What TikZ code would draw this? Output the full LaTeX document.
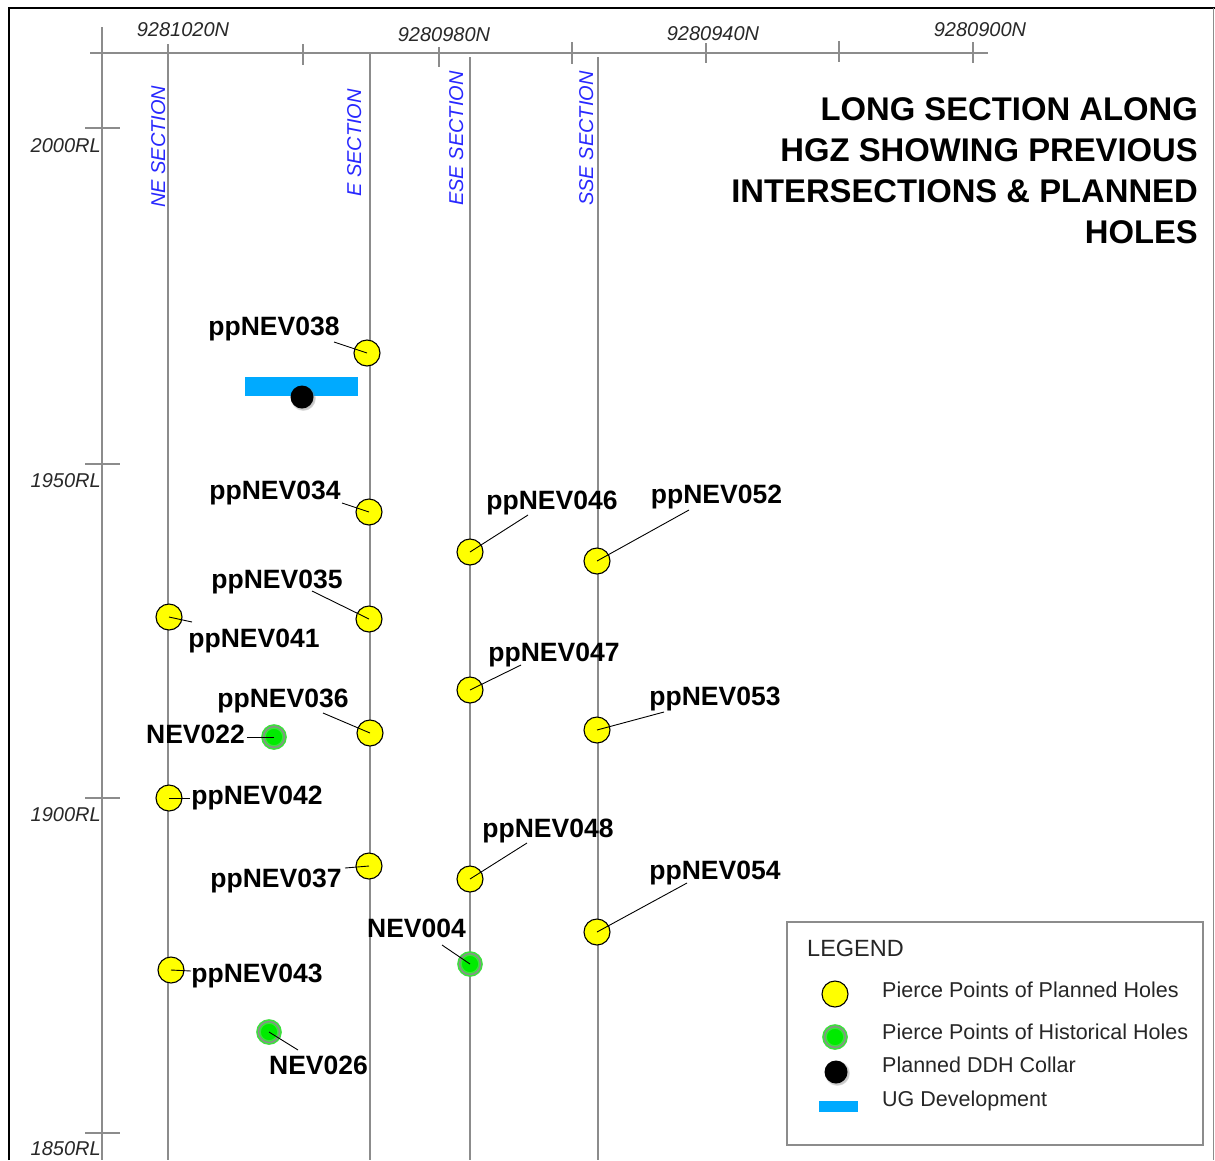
\documentclass[tikz,border=0pt]{standalone}
\usepackage{fontspec}
\setmainfont{Liberation Sans}
\usetikzlibrary{shadows}
\definecolor{axgray}{RGB}{140,140,140}
\definecolor{ppyellow}{RGB}{255,255,0}
\definecolor{histgreen}{RGB}{0,235,0}
\definecolor{ringgreen}{RGB}{60,225,60}
\definecolor{ugblue}{RGB}{0,170,255}
\definecolor{secblue}{RGB}{40,40,255}
\definecolor{axtext}{RGB}{40,40,40}
\begin{document}
\begin{tikzpicture}[x=1pt,y=-1pt,
  axline/.style={draw=axgray, line width=1.6pt},
  axlab/.style={inner sep=0pt, text=axtext, font=\fontsize{20}{22}\selectfont\itshape},
  seclab/.style={inner sep=0pt, rotate=90, anchor=base west, text=secblue, font=\fontsize{20}{22}\selectfont\itshape},
  titlelab/.style={inner sep=0pt, anchor=base east, font=\fontsize{32.8}{36}\selectfont\bfseries},
  pp/.style={circle, inner sep=0pt, minimum size=26pt, fill=ppyellow, draw=black, line width=1.1pt},
  hist/.style={circle, inner sep=0pt, minimum size=21pt, fill=histgreen, draw=ringgreen, line width=1.6pt, double=axgray, double distance=1.4pt},
  collar/.style={circle, inner sep=0pt, minimum size=23pt, fill=black, circular drop shadow={shadow xshift=1pt, shadow yshift=-1pt, shadow scale=1.12, opacity=0.45}},
  ugdev/.style={rectangle, inner sep=0pt, fill=ugblue},
  holelab/.style={inner sep=0pt, anchor=base, font=\fontsize{26.5}{30}\selectfont\bfseries},
  leader/.style={draw=black, line width=0.9pt},
  legtext/.style={inner sep=0pt, anchor=base west, text=black!85, font=\fontsize{21.5}{24}\selectfont},
]
\useasboundingbox (0,0) rectangle (1215,1160);
\fill[white] (0,0) rectangle (1215,1160);

% frame
\draw[black, line width=1.6pt] (9,1160) -- (9,8) -- (1215,8);
\draw[axgray, line width=1pt] (1213,8) -- (1213,1160);

% axes
\draw[axline] (90,53) -- (988,53);
\draw[axline] (102,27) -- (102,1160);
\draw[axline] (303,44) -- (303,65);
\draw[axline] (439,47) -- (439,67);
\draw[axline] (572,42) -- (572,64);
\draw[axline] (706,43) -- (706,63);
\draw[axline] (839,41) -- (839,62);
\draw[axline] (973,42) -- (973,63);
\draw[axline] (85,128) -- (120,128);
\draw[axline] (85,464) -- (120,464);
\draw[axline] (85,798) -- (120,798);
\draw[axline] (85,1133) -- (120,1133);

% section lines
\draw[axline] (168,44) -- (168,1160);
\draw[axline] (370,53) -- (370,1160);
\draw[axline] (470,57) -- (470,1160);
\draw[axline] (598,57) -- (598,1160);

% axis labels
\node[axlab, anchor=base] (n1) at (183,36) {9281020N};
\node[axlab, anchor=base] (n2) at (444,41) {9280980N};
\node[axlab, anchor=base] (n3) at (713,40) {9280940N};
\node[axlab, anchor=base] (n4) at (980,36) {9280900N};
\node[axlab, anchor=base east] (r1) at (101,152) {2000RL};
\node[axlab, anchor=base east] (r2) at (101,487) {1950RL};
\node[axlab, anchor=base east] (r3) at (101,821) {1900RL};
\node[axlab, anchor=base east] (r4) at (101,1155) {1850RL};

% section labels
\node[seclab] (sNE) at (165,208) {NE SECTION};
\node[seclab] (sE) at (361,197) {E SECTION};
\node[seclab] (sESE) at (463,206) {ESE SECTION};
\node[seclab] (sSSE) at (593,206) {SSE SECTION};

% title
\node[titlelab] (t1) at (1198,120) {LONG SECTION ALONG};
\node[titlelab] (t2) at (1198,161) {HGZ SHOWING PREVIOUS};
\node[titlelab] (t3) at (1198,202) {INTERSECTIONS \& PLANNED};
\node[titlelab] (t4) at (1198,243) {HOLES};

% UG development and collar
\node[ugdev, minimum width=113pt, minimum height=19pt] (ug) at (301.5,386.5) {};
\node[collar] (col) at (302,397) {};

% planned pierce points
\node[pp] (p038) at (367,353) {};
\node[pp] (p034) at (369,512) {};
\node[pp] (p035) at (369,619) {};
\node[pp] (p036) at (370,733) {};
\node[pp] (p037) at (369,866) {};
\node[pp] (p041) at (169,617) {};
\node[pp] (p042) at (169,798) {};
\node[pp] (p043) at (171,970) {};
\node[pp] (p046) at (470,552) {};
\node[pp] (p047) at (470,690) {};
\node[pp] (p048) at (470,879) {};
\node[pp] (p052) at (597,561) {};
\node[pp] (p053) at (597,730) {};
\node[pp] (p054) at (597,932) {};

% historical pierce points
\node[hist] (h022) at (274,737) {};
\node[hist] (h004) at (470,964) {};
\node[hist] (h026) at (269,1032) {};

% labels
\node[holelab] (l038) at (274,335) {ppNEV038};
\node[holelab] (l034) at (275,499) {ppNEV034};
\node[holelab] (l035) at (277,588) {ppNEV035};
\node[holelab] (l036) at (283,707) {ppNEV036};
\node[holelab] (l037) at (276,887) {ppNEV037};
\node[holelab] (l041) at (254,647) {ppNEV041};
\node[holelab] (l042) at (257,804) {ppNEV042};
\node[holelab] (l043) at (257,982) {ppNEV043};
\node[holelab] (l046) at (552,509) {ppNEV046};
\node[holelab] (l047) at (554,661) {ppNEV047};
\node[holelab] (l048) at (548,837) {ppNEV048};
\node[holelab] (l052) at (716.5,503) {ppNEV052};
\node[holelab] (l053) at (715,705) {ppNEV053};
\node[holelab] (l054) at (715,879) {ppNEV054};
\node[holelab] (l022) at (195.5,743) {NEV022};
\node[holelab] (l004) at (416.5,937) {NEV004};
\node[holelab] (l026) at (318.5,1074) {NEV026};

% leader ends
\coordinate (c038) at (334,342);
\coordinate (c034) at (342,503);
\coordinate (c035) at (312,591);
\coordinate (c036) at (323,713);
\coordinate (c037) at (345,868);
\coordinate (c041) at (192,622);
\coordinate (c042) at (190,798);
\coordinate (c043) at (191,971);
\coordinate (c046) at (528,515);
\coordinate (c047) at (521,665);
\coordinate (c048) at (527,843);
\coordinate (c052) at (689,510);
\coordinate (c053) at (664,712);
\coordinate (c054) at (687,883);
\coordinate (c022) at (247,737);
\coordinate (c004) at (442,945);
\coordinate (c026) at (298,1050);

\foreach \k in {038,034,035,036,037,041,042,043,046,047,048,052,053,054}
  \draw[leader] (p\k.center) -- (c\k);
\foreach \k in {022,004,026}
  \draw[leader] (h\k.center) -- (c\k);

% legend
\node[draw=axgray, line width=1.2pt, inner sep=0pt, minimum width=416pt, minimum height=223pt] (legbox) at (995,1033.5) {};
\node[inner sep=0pt, anchor=base west, text=black!85, font=\fontsize{23.5}{26}\selectfont] (legtitle) at (807,956) {LEGEND};
\node[pp] (kpp) at (835,994) {};
\node[hist] (khist) at (835,1037) {};
\node[collar] (kcol) at (836,1072) {};
\node[ugdev, minimum width=39pt, minimum height=11pt] (kug) at (838.5,1106.5) {};
\node[legtext] (tpp) at (882,997) {Pierce Points of Planned Holes};
\node[legtext] (thist) at (882,1039) {Pierce Points of Historical Holes};
\node[legtext] (tcol) at (882,1072) {Planned DDH Collar};
\node[legtext] (tug) at (882,1106) {UG Development};
\end{tikzpicture}
\end{document}
